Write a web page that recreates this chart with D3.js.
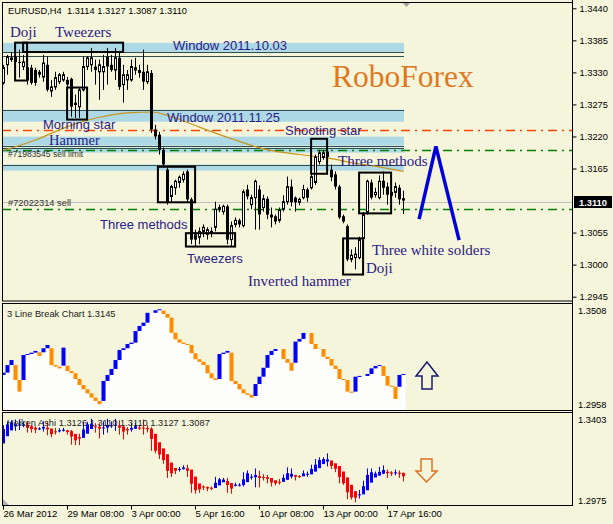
<!DOCTYPE html>
<html><head><meta charset="utf-8">
<script src="https://cdn.jsdelivr.net/npm/d3@7/dist/d3.min.js"></script>
<style>
html,body{margin:0;padding:0;background:#f5f5dc;overflow:hidden}
svg{display:block}
</style></head>
<body><svg id="chart" width="613" height="524"></svg>
<script>
// ================= DATA =================
const headerText = "EURUSD,H4  1.3114 1.3127 1.3087 1.3110";
const openP = [1.3312,1.3343,1.3352,1.3357,1.3348,1.3340,1.3317,1.3338,1.3334,1.3331,
1.3322,1.3343,1.3298,1.3305,1.3314,1.3317,1.3317,1.3319,1.3278,1.3271,
1.3300,1.3340,1.3343,1.3340,1.3331,1.3331,1.3357,1.3343,1.3334,1.3355,
1.3309,1.3317,1.3317,1.3334,1.3334,1.3331,1.3314,1.3329,1.3232,1.3223,
1.3197,1.3163,1.3117,1.3132,1.3141,1.3146,1.3160,1.3112,1.3052,1.3047,
1.3057,1.3052,1.3054,1.3064,1.3095,1.3091,1.3100,1.3043,1.3069,1.3076,
1.3067,1.3129,1.3103,1.3115,1.3129,1.3098,1.3113,1.3086,1.3083,1.3076,
1.3095,1.3108,1.3134,1.3115,1.3107,1.3115,1.3129,1.3132,1.3141,1.3177,
1.3184,1.3194,1.3163,1.3155,1.3134,1.3083,1.3066,1.3009,1.3012,1.3012,
1.3045,1.3090,1.3141,1.3120,1.3115,1.3144,1.3134,1.3119,1.3124,1.3132,
1.3114];
const highP = [1.3343,1.3360,1.3365,1.3369,1.3369,1.3360,1.3360,1.3343,1.3338,1.3334,
1.3360,1.3357,1.3317,1.3331,1.3329,1.3331,1.3322,1.3321,1.3292,1.3304,
1.3357,1.3358,1.3372,1.3352,1.3352,1.3360,1.3372,1.3360,1.3372,1.3365,
1.3343,1.3334,1.3352,1.3355,1.3343,1.3369,1.3343,1.3334,1.3240,1.3228,
1.3201,1.3167,1.3137,1.3146,1.3153,1.3160,1.3163,1.3115,1.3060,1.3064,
1.3069,1.3064,1.3064,1.3108,1.3103,1.3103,1.3103,1.3074,1.3081,1.3079,
1.3129,1.3137,1.3120,1.3146,1.3136,1.3120,1.3117,1.3098,1.3086,1.3098,
1.3119,1.3151,1.3146,1.3117,1.3115,1.3137,1.3132,1.3163,1.3189,1.3197,
1.3197,1.3215,1.3172,1.3160,1.3137,1.3086,1.3069,1.3026,1.3030,1.3048,
1.3090,1.3146,1.3146,1.3132,1.3153,1.3160,1.3141,1.3134,1.3141,1.3137,
1.3127];
const lowP = [1.3309,1.3326,1.3348,1.3317,1.3321,1.3334,1.3309,1.3309,1.3307,1.3321,
1.3314,1.3297,1.3288,1.3300,1.3310,1.3314,1.3300,1.3254,1.3252,1.3252,
1.3297,1.3334,1.3331,1.3309,1.3283,1.3300,1.3309,1.3331,1.3317,1.3300,
1.3278,1.3300,1.3314,1.3326,1.3321,1.3300,1.3310,1.3226,1.3215,1.3189,
1.3167,1.3103,1.3107,1.3120,1.3132,1.3141,1.3107,1.3035,1.3031,1.3035,
1.3047,1.3043,1.3047,1.3057,1.3090,1.3086,1.3035,1.3031,1.3064,1.3064,
1.3064,1.3112,1.3095,1.3060,1.3060,1.3091,1.3078,1.3064,1.3069,1.3072,
1.3091,1.3103,1.3100,1.3091,1.3102,1.3112,1.3108,1.3129,1.3137,1.3172,
1.3180,1.3155,1.3143,1.3129,1.3078,1.3071,1.3006,1.3004,1.2992,1.3009,
1.3040,1.3086,1.3112,1.3115,1.3112,1.3120,1.3103,1.3112,1.3115,1.3103,
1.3087];
const closeP = [1.3338,1.3357,1.3355,1.3348,1.3347,1.3348,1.3338,1.3312,1.3312,1.3326,
1.3346,1.3300,1.3305,1.3321,1.3326,1.3326,1.3309,1.3271,1.3274,1.3300,
1.3340,1.3355,1.3355,1.3334,1.3343,1.3340,1.3340,1.3334,1.3355,1.3305,
1.3326,1.3326,1.3340,1.3338,1.3329,1.3314,1.3331,1.3232,1.3220,1.3197,
1.3172,1.3107,1.3134,1.3143,1.3150,1.3155,1.3112,1.3043,1.3043,1.3057,
1.3064,1.3060,1.3057,1.3095,1.3098,1.3100,1.3043,1.3067,1.3076,1.3069,
1.3125,1.3117,1.3115,1.3143,1.3086,1.3113,1.3086,1.3081,1.3074,1.3093,
1.3108,1.3134,1.3107,1.3107,1.3112,1.3129,1.3115,1.3151,1.3185,1.3192,
1.3192,1.3185,1.3150,1.3134,1.3081,1.3074,1.3009,1.3016,1.3018,1.3043,
1.3086,1.3143,1.3115,1.3124,1.3143,1.3132,1.3120,1.3124,1.3134,1.3112,
1.3110];

// moving average read at selected bars
const maBars = [0,8,16,24,32,37,41,49,57,66,74,82,87,92,100];
const maVals = [1.3196,1.3214,1.3237,1.3253,1.3261,1.3262,1.3256,1.3236,1.3216,1.3197,1.3189,1.3182,1.3175,1.3170,1.3160];

// Heiken Ashi
const haOpen = [1.3260,1.32927,1.33195,1.33372,1.33424,1.33444,1.33450,1.33380,1.33317,1.33273,
1.33277,1.33316,1.33279,1.33150,1.33147,1.33172,1.33196,1.33159,1.33035,1.32888,
1.32852,1.33042,1.33255,1.33378,1.33356,1.33314,1.33320,1.33381,1.33401,1.33424,
1.33369,1.33254,1.33224,1.33265,1.33323,1.33320,1.33302,1.33273,1.33039,1.32652,
1.32373,1.32108,1.31728,1.31483,1.31418,1.31428,1.31466,1.31409,1.31086,1.30776,
1.30640,1.30616,1.30582,1.30568,1.30688,1.30827,1.30889,1.30796,1.30668,1.30696,
1.30708,1.30836,1.31037,1.31060,1.31110,1.31069,1.31063,1.31024,1.30923,1.30851,
1.30849,1.30941,1.31091,1.31154,1.31115,1.31101,1.31168,1.31190,1.31315,1.31473,
1.31659,1.31772,1.31822,1.31695,1.31569,1.31322,1.31053,1.30713,1.30426,1.30277,
1.30281,1.30466,1.30813,1.31050,1.31139,1.31222,1.31307,1.31277,1.31249,1.31267,
1.31260];
const haClose = [1.33254,1.33463,1.33549,1.33476,1.33463,1.33455,1.33309,1.33254,1.33228,1.33279,
1.33356,1.33241,1.33023,1.33142,1.33198,1.33220,1.33121,1.32911,1.32740,1.32817,
1.33232,1.33468,1.33502,1.33335,1.33271,1.33327,1.33442,1.33421,1.33446,1.33314,
1.33138,1.33194,1.33305,1.33382,1.33318,1.33284,1.33245,1.32804,1.32265,1.32094,
1.31841,1.31349,1.31238,1.31353,1.31439,1.31503,1.31353,1.30763,1.30467,1.30506,
1.30592,1.30549,1.30553,1.30810,1.30964,1.30951,1.30703,1.30540,1.30724,1.30720,
1.30964,1.31238,1.31084,1.31161,1.31028,1.31058,1.30985,1.30823,1.30780,1.30848,
1.31032,1.31242,1.31216,1.31075,1.31088,1.31234,1.31212,1.31439,1.31632,1.31846,
1.31884,1.31871,1.31567,1.31443,1.31075,1.30784,1.30373,1.30138,1.30129,1.30283,
1.30652,1.31161,1.31285,1.31229,1.31306,1.31392,1.31246,1.31221,1.31285,1.31212,
1.31100];
const haLabel = "Heiken Ashi 1.3126 1.3110 1.3110 1.3127 1.3087";

// 3 Line Break
const lbFrom = [1.3139,1.3151,1.3190,1.3190,1.3113,1.3113,1.3242,1.3247,1.3254,1.3256,
1.3256,1.3277,1.3277,1.3190,1.3182,1.3187,1.3187,1.3159,1.3148,1.3118,
1.3087,1.3065,1.3044,1.3022,1.3005,1.3005,1.3108,1.3139,1.3170,1.3216,
1.3268,1.3277,1.3299,1.3306,1.3366,1.3392,1.3409,1.3460,1.3460,1.3473,
1.3471,1.3454,1.3435,1.3357,1.3323,1.3306,1.3299,1.3294,1.3251,1.3220,
1.3207,1.3190,1.3148,1.3122,1.3118,1.3247,1.3254,1.3254,1.3108,1.3092,
1.3065,1.3044,1.3036,1.3030,1.3092,1.3130,1.3176,1.3242,1.3263,1.3273,
1.3273,1.3221,1.3202,1.3202,1.3311,1.3325,1.3356,1.3356,1.3299,1.3273,
1.3273,1.3233,1.3221,1.3187,1.3170,1.3118,1.3113,1.3053,1.3053,1.3130,
1.3134,1.3134,1.3144,1.3173,1.3185,1.3185,1.3134,1.3084,1.3078,1.3078,
1.3139];
const lbTo = [1.3151,1.3190,1.3216,1.3113,1.3053,1.3242,1.3247,1.3254,1.3263,1.3237,
1.3277,1.3294,1.3190,1.3182,1.3173,1.3280,1.3159,1.3148,1.3118,1.3087,
1.3065,1.3044,1.3022,1.3005,1.2988,1.3108,1.3139,1.3170,1.3216,1.3268,
1.3277,1.3299,1.3306,1.3366,1.3392,1.3409,1.3460,1.3460,1.3473,1.3478,
1.3454,1.3435,1.3357,1.3323,1.3306,1.3299,1.3294,1.3251,1.3220,1.3207,
1.3190,1.3148,1.3122,1.3113,1.3247,1.3254,1.3263,1.3108,1.3092,1.3065,
1.3044,1.3036,1.3022,1.3092,1.3130,1.3176,1.3242,1.3263,1.3273,1.3273,
1.3221,1.3202,1.3161,1.3311,1.3325,1.3356,1.3356,1.3299,1.3273,1.3273,
1.3233,1.3221,1.3187,1.3170,1.3118,1.3113,1.3053,1.3047,1.3130,1.3134,
1.3134,1.3144,1.3173,1.3185,1.3190,1.3134,1.3084,1.3078,1.3015,1.3139,
1.3144];
const lbLabel = "3 Line Break Chart 1.3145";

// axes
const priceTicks = [1.3440,1.3385,1.3330,1.3275,1.3220,1.3165,1.3055,1.3000,1.2945];
const lastPrice = 1.3110;
const lbRange = [1.2958, 1.3508];
const haRange = [1.2975, 1.3403];
const timeTickBars = [0,16,32,48,64,80,96];
const timeTickLabels = ["26 Mar 2012","29 Mar 08:00","3 Apr 00:00","5 Apr 16:00","10 Apr 08:00","13 Apr 00:00","17 Apr 16:00"];

// chart objects (price levels / zones)
const bandLow  = [1.33652,1.32453,1.32043,1.31923,1.31615];
const bandHigh = [1.33806,1.32659,1.32197,1.32008,1.31717];
const levelLines = [1.33652,1.33583,1.32659,1.32043,1.32008,1.31717];
const redDashLevel = 1.32316;
const greenDashLevels = [1.31974,1.30947];

// pattern boxes (bar range, price range)
const boxStart = [2.9,4.9,15.9,38.6,45.6,76.9,84.9,88.9];
const boxEnd   = [5.9,29.9,20.9,47.9,57.9,80.9,89.9,96.9];
const boxHigh  = [1.3381,1.3381,1.3304,1.3168,1.3054,1.3216,1.3045,1.3158];
const boxLow   = [1.3316,1.3365,1.3249,1.3107,1.3031,1.3156,1.2983,1.3088];

// forecast zigzag
const zigBars = [103.9,108.1,113.9];
const zigPrices = [1.3078,1.3203,1.3042];

// ================= DRAW =================
const svg = d3.select("#chart");
const SANS = "'Liberation Sans',Arial,sans-serif";
const SERIF = "'Liberation Serif','Times New Roman',serif";
const annColor = "#2b2085";
const N = openP.length;
const idx = d3.range(N);

const x = d3.scaleLinear().domain([0,100]).range([3.5,403.5]);
const yM = d3.scaleLinear().domain([1.29393,1.34508]).range([300,2]);
const yL = d3.scaleLinear().domain(lbRange).range([410,303.5]);
const yH = d3.scaleLinear().domain(haRange).range([506,412]);
const crisp = v => Math.round(v)+0.5;

svg.append("rect").attr("width",613).attr("height",524).attr("fill","#f5f5dc");

const defs = svg.append("defs");
function clip(id,x0,y0,x1,y1){defs.append("clipPath").attr("id",id).append("rect")
  .attr("x",x0).attr("y",y0).attr("width",x1-x0).attr("height",y1-y0);}
clip("cm",3,3,572,300);
clip("cl",3,304,572,410);
clip("ch",3,413,572,506);

// ---------- main panel ----------
const gM = svg.append("g").attr("clip-path","url(#cm)");
const xEnd = x(100)+0.5;

gM.selectAll("rect.band").data(d3.range(bandLow.length)).join("rect")
  .attr("x",2).attr("width",xEnd-2)
  .attr("y",k=>yM(bandHigh[k])).attr("height",k=>yM(bandLow[k])-yM(bandHigh[k]))
  .attr("fill","#add8e6");
gM.selectAll("line.lvl").data(levelLines).join("line")
  .attr("x1",2).attr("x2",xEnd).attr("y1",d=>crisp(yM(d))).attr("y2",d=>crisp(yM(d)))
  .attr("stroke","#2f4f4f").attr("stroke-width",1);

// dash-dot lines
gM.append("line").attr("x1",2).attr("x2",572).attr("y1",crisp(yM(redDashLevel))).attr("y2",crisp(yM(redDashLevel)))
  .attr("stroke","#ff4500").attr("stroke-width",1.5).attr("stroke-dasharray","9,5,2,5");
gM.selectAll("line.gd").data(greenDashLevels).join("line")
  .attr("x1",2).attr("x2",572).attr("y1",d=>crisp(yM(d))).attr("y2",d=>crisp(yM(d)))
  .attr("stroke","#008000").attr("stroke-width",1.6).attr("stroke-dasharray","9,5,2,5");
// current price line
gM.append("line").attr("x1",2).attr("x2",572).attr("y1",crisp(yM(lastPrice))+1).attr("y2",crisp(yM(lastPrice))+1)
  .attr("stroke","#c0c0c0").attr("stroke-width",1);

// order labels
gM.append("text").attr("x",8).attr("y",157).text("#71983545 sell limit")
  .attr("font-family",SANS).attr("font-size",8.5).attr("fill","#333");
gM.append("text").attr("x",8).attr("y",206).text("#72022314 sell")
  .attr("font-family",SANS).attr("font-size",9.3).attr("fill","#333");

// moving average
gM.append("path").datum(d3.range(maBars.length))
  .attr("d",d3.line().x(k=>x(maBars[k])).y(k=>yM(maVals[k])).curve(d3.curveMonotoneX))
  .attr("fill","none").attr("stroke","#c8951a").attr("stroke-width",1.2);

// candles
const cx = i => Math.round(x(i)-0.5);
gM.selectAll("line.wick").data(idx).join("line")
  .attr("x1",i=>cx(i)+0.5).attr("x2",i=>cx(i)+0.5)
  .attr("y1",i=>yM(highP[i])).attr("y2",i=>yM(lowP[i]))
  .attr("stroke","#000").attr("stroke-width",1);
gM.selectAll("rect.body").data(idx).join("rect")
  .attr("x",i=> closeP[i]>openP[i] ? cx(i)-0.5 : cx(i)-1)
  .attr("width",i=> closeP[i]>openP[i] ? 2 : 3)
  .attr("y",i=> yM(Math.max(openP[i],closeP[i])))
  .attr("height",i=> Math.max(1, yM(Math.min(openP[i],closeP[i]))-yM(Math.max(openP[i],closeP[i]))))
  .attr("fill",i=> closeP[i]>openP[i] ? "#fff" : "#000")
  .attr("stroke",i=> closeP[i]>openP[i] ? "#000" : "none")
  .attr("stroke-width",1);

// pattern boxes
gM.selectAll("rect.box").data(d3.range(boxStart.length)).join("rect")
  .attr("x",k=>x(boxStart[k])).attr("width",k=>x(boxEnd[k])-x(boxStart[k]))
  .attr("y",k=>yM(boxHigh[k])).attr("height",k=>yM(boxLow[k])-yM(boxHigh[k]))
  .attr("fill","none").attr("stroke","#000").attr("stroke-width",2);

// annotations
const ann = [
 {t:"Doji",x:10,y:37,f:SERIF,s:15},
 {t:"Tweezers",x:55,y:37,f:SERIF,s:15},
 {t:"Window 2011.10.03",x:173,y:50,f:SANS,s:13},
 {t:"Window 2011.11.25",x:167,y:121.5,f:SANS,s:13},
 {t:"Morning star",x:43,y:128.8,f:SANS,s:13},
 {t:"Hammer",x:49,y:144.5,f:SERIF,s:14.5},
 {t:"Shooting star",x:285,y:135,f:SANS,s:13},
 {t:"Three methods",x:338,y:166,f:SERIF,s:15},
 {t:"Three methods",x:100,y:229,f:SANS,s:13},
 {t:"Tweezers",x:187,y:263,f:SANS,s:13},
 {t:"Inverted hammer",x:248,y:286,f:SERIF,s:15},
 {t:"Doji",x:366,y:273,f:SERIF,s:15},
 {t:"Three white solders",x:372,y:255,f:SERIF,s:15}
];
gM.selectAll("text.ann").data(ann).join("text")
  .attr("x",d=>d.x).attr("y",d=>d.y).text(d=>d.t)
  .attr("font-family",d=>d.f).attr("font-size",d=>d.s).attr("fill",annColor);
gM.append("text").attr("x",332).attr("y",87).text("RoboForex")
  .attr("font-family",SERIF).attr("font-size",31.5).attr("fill","#e07820");

// zigzag
gM.append("path").datum(d3.range(zigBars.length))
  .attr("d",d3.line().x(k=>x(zigBars[k])).y(k=>yM(zigPrices[k])))
  .attr("fill","none").attr("stroke","#0000dd").attr("stroke-width",3.5).attr("stroke-linejoin","miter");

// shift marker
svg.append("path").attr("d","M403,3L410,3L406.5,7Z").attr("fill","#a0a0a0");

// header
svg.append("text").attr("x",8).attr("y",14).text(headerText)
  .attr("font-family",SANS).attr("font-size",9.3).attr("fill","#000").style("white-space","pre");

// ---------- 3 line break ----------
const gL = svg.append("g").attr("clip-path","url(#cl)");
gL.selectAll("rect.w").data(idx).join("rect")
  .attr("x",i=>x(i)-2).attr("width",4)
  .attr("y",i=>yL(Math.min(lbFrom[i],lbTo[i]))).attr("height",i=>410-yL(Math.min(lbFrom[i],lbTo[i])))
  .attr("fill","#fff");
gL.selectAll("rect.b").data(idx.filter(i=>lbFrom[i]!==lbTo[i])).join("rect")
  .attr("x",i=>x(i)-2).attr("width",4)
  .attr("y",i=>yL(Math.max(lbFrom[i],lbTo[i])))
  .attr("height",i=>Math.max(1,yL(Math.min(lbFrom[i],lbTo[i]))-yL(Math.max(lbFrom[i],lbTo[i]))))
  .attr("fill",i=>lbTo[i]>lbFrom[i] ? "#0000ff" : "#ff8c00");
svg.append("text").attr("x",7).attr("y",317).text(lbLabel)
  .attr("font-family",SANS).attr("font-size",9.3).attr("fill","#222");
svg.append("path").attr("d","M427,362L438,376L432,376L432,389L422,389L422,376L416,376Z")
  .attr("fill","none").attr("stroke","#1a1a70").attr("stroke-width",1.5);

// ---------- heiken ashi ----------
const gH = svg.append("g").attr("clip-path","url(#ch)");
const haCol = i => haClose[i]>=haOpen[i] ? "#0000ff" : "#ff0000";
gH.selectAll("line.hw").data(idx).join("line")
  .attr("x1",i=>cx(i)+0.5).attr("x2",i=>cx(i)+0.5)
  .attr("y1",i=>yH(highP[i])).attr("y2",i=>yH(lowP[i]))
  .attr("stroke",haCol).attr("stroke-width",1);
gH.selectAll("rect.hb").data(idx).join("rect")
  .attr("x",i=>cx(i)-1).attr("width",3)
  .attr("y",i=>yH(Math.max(haOpen[i],haClose[i])))
  .attr("height",i=>Math.max(1,yH(Math.min(haOpen[i],haClose[i]))-yH(Math.max(haOpen[i],haClose[i]))))
  .attr("fill",haCol);
svg.append("text").attr("x",7).attr("y",426).text(haLabel)
  .attr("font-family",SANS).attr("font-size",9.3).attr("fill","#222");
svg.append("path").attr("d","M421,459L432,459L432,471L437,471L426.5,482L416,471L421,471Z")
  .attr("fill","none").attr("stroke","#e07020").attr("stroke-width",1.5);
svg.append("path").attr("d","M3,499L3,505L9,505Z").attr("fill","#b0b0b0");

// ---------- frames ----------
const frames = [[2.5,2.5,301],[2.5,303.5,410.5],[2.5,412.5,505.5]];
frames.forEach(f=>{
  svg.append("rect").attr("x",f[0]).attr("y",f[1]).attr("width",572.5-f[0]).attr("height",f[2]-f[1])
    .attr("fill","none").attr("stroke","#000").attr("stroke-width",1);
});
svg.append("line").attr("x1",572.5).attr("x2",572.5).attr("y1",0).attr("y2",506).attr("stroke","#000");

// price axis
const axM = svg.append("g").attr("transform","translate(572.5,0)")
  .call(d3.axisRight(yM).tickValues(priceTicks).tickSize(4).tickPadding(3).tickFormat(d3.format(".4f")));
axM.select(".domain").remove();
axM.selectAll("text").attr("font-family",SANS).attr("font-size",9.3).attr("fill","#000");
axM.selectAll("line").attr("stroke","#000");
// last price label
svg.append("rect").attr("x",574).attr("y",Math.round(yM(lastPrice))-5).attr("width",38).attr("height",12).attr("fill","#000");
svg.append("text").attr("x",579).attr("y",Math.round(yM(lastPrice))+5).text(d3.format(".4f")(lastPrice))
  .attr("font-family",SANS).attr("font-size",9.3).attr("font-weight","bold").attr("fill","#fff");
// sub-panel labels
[[lbRange[1],314],[lbRange[0],408],[haRange[1],423],[haRange[0],504]].forEach(d=>{
  svg.append("text").attr("x",578).attr("y",d[1]).text(d3.format(".4f")(d[0]))
   .attr("font-family",SANS).attr("font-size",9.3).attr("fill","#000");
});

// time axis
const axT = svg.append("g").attr("transform","translate(-0.5,505.5)")
  .call(d3.axisBottom(x).tickValues(timeTickBars).tickSize(4).tickPadding(2)
    .tickFormat((d,k)=>timeTickLabels[k]));
axT.select(".domain").remove();
axT.selectAll("line").attr("stroke","#000");
axT.selectAll("text").attr("font-family",SANS).attr("font-size",9.6).attr("fill","#000")
  .attr("text-anchor","start").attr("dx",0).attr("dy","0.55em");
</script>
</body></html>
